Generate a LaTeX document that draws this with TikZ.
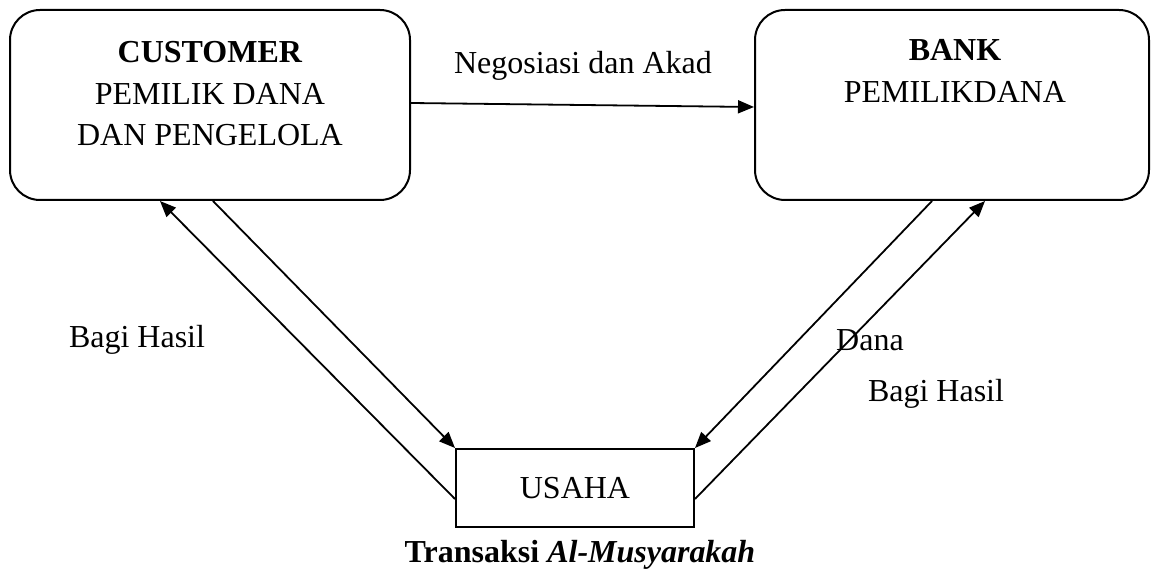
\documentclass[tikz,border=0pt]{standalone}
\usepackage{fontspec}
\setmainfont{Liberation Serif}
\usetikzlibrary{arrows.meta,calc}
\begin{document}
\begin{tikzpicture}[x=0.5pt,y=-0.5pt,
  roundbox/.style={draw,line width=1pt,rounded corners=15pt,minimum width=200pt,minimum height=95pt,inner sep=0pt},
  plainbox/.style={draw,line width=1pt,minimum width=119pt,minimum height=39pt,inner sep=0pt,font=\fontsize{16}{21}\selectfont},
  lbl/.style={font=\fontsize{16}{20.75}\selectfont,inner sep=0pt,align=center},
  arr/.style={line width=0.9pt,-{Triangle[length=8pt,width=6.5pt]}}]
\useasboundingbox (0,0) rectangle (1152,577);
\node[roundbox] (cust) at (210,105) {};
\node[roundbox,minimum width=197pt] (bank) at (952,105) {};
\node[lbl] (custtext) at (210,94) {\textbf{CUSTOMER}\\PEMILIK DANA\\DAN PENGELOLA};
\node[lbl] (banktext) at (955,71) {\textbf{BANK}\\PEMILIKDANA};
\node[plainbox] (usaha) at (575,488) {USAHA};
\coordinate (c1) at ($(cust.south)+(-50,0)$);
\coordinate (c2) at ($(cust.south)+(3,0)$);
\coordinate (b1) at ($(bank.south)+(-20,0)$);
\coordinate (b2) at ($(bank.south)+(33,0)$);
\coordinate (u1) at ($(usaha.west)+(0,11)$);
\coordinate (u4) at ($(usaha.east)+(0,11)$);
\draw[arr] ($(cust.east)+(0,-2)$) -- ($(bank.west)+(0,2)$);
\draw[arr] (u1) -- (c1);
\draw[arr] (c2) -- (usaha.north west);
\draw[arr] (b1) -- (usaha.north east);
\draw[arr] (u4) -- (b2);
\node[lbl] (neg) at (583,66) {Negosiasi dan Akad};
\node[lbl] (bh1) at (137,340) {Bagi Hasil};
\node[lbl] (dana) at (870,340) {Dana};
\node[lbl] (bh2) at (936,394) {Bagi Hasil};
\node[lbl] (cap) at (580,555) {\textbf{Transaksi \textit{Al-Musyarakah}}};
\end{tikzpicture}
\end{document}
